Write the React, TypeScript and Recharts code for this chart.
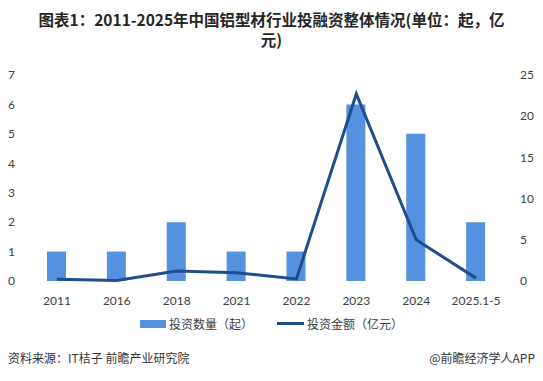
import { Bar, ComposedChart, Line, XAxis, YAxis } from "recharts";

const years = ["2011", "2016", "2018", "2021", "2022", "2023", "2024", "2025.1-5"];
const dealCounts = [1, 1, 2, 1, 1, 6, 5, 2];
const dealAmounts = [0.2, 0.05, 1.2, 1.0, 0.25, 22.7, 5.0, 0.35];
const leftTicks = [0, 1, 2, 3, 4, 5, 6, 7];
const rightTicks = [0, 5, 10, 15, 20, 25];
const edgeTicks = [0, 1, 2, 3, 4, 5, 6, 7, 8];

const cjk = '"Noto Sans CJK SC", "Noto Sans", sans-serif';
const tickFont = { fill: "#404040", fontSize: 12, fontFamily: "Lato, sans-serif" };

export default function App() {
  const data = years.map((year, i) => ({
    year,
    count: dealCounts[i],
    amount: dealAmounts[i],
    idx: i + 0.5,
  }));

  return (
    <div
      style={{
        position: "fixed",
        left: 0,
        top: 0,
        width: 543,
        height: 381,
        background: "#fff",
        fontFamily: cjk,
      }}
    >
      <div
        style={{
          position: "absolute",
          top: 9,
          left: 0,
          width: 543,
          textAlign: "center",
          fontSize: 15.5,
          fontWeight: 700,
          lineHeight: "20px",
          color: "#262626",
        }}
      >
        图表1：2011-2025年中国铝型材行业投融资整体情况(单位：起，亿
        <br />
        元)
      </div>

      <div style={{ position: "absolute", left: 0, top: 0 }}>
        <ComposedChart
          width={543}
          height={312}
          data={data}
          margin={{ top: 75, right: 0, bottom: 0, left: 0 }}
        >
          <XAxis
            xAxisId="edge"
            type="number"
            dataKey="idx"
            domain={[0, 8]}
            ticks={edgeTicks}
            height={0}
            tickFormatter={() => ""}
            axisLine={{ stroke: "#d9d9d9" }}
            tickLine={{ stroke: "#d9d9d9" }}
            tickSize={5}
          />
          <XAxis
            xAxisId="cat"
            dataKey="year"
            height={31}
            axisLine={false}
            tickLine={false}
            tick={tickFont}
            tickMargin={9}
            interval={0}
          />
          <YAxis
            yAxisId="left"
            domain={[0, 7]}
            ticks={leftTicks}
            width={27}
            axisLine={false}
            tickLine={false}
            tick={tickFont}
            tickMargin={6}
          />
          <YAxis
            yAxisId="right"
            orientation="right"
            domain={[0, 25]}
            ticks={rightTicks}
            width={37}
            axisLine={false}
            tickLine={false}
            tick={{ ...tickFont, textAnchor: "start" }}
            tickMargin={8}
          />
          <Bar
            xAxisId="cat"
            yAxisId="left"
            dataKey="count"
            name="投资数量（起）"
            fill="#5691e0"
            barSize={19}
            isAnimationActive={false}
          />
          <Line
            xAxisId="cat"
            yAxisId="right"
            type="linear"
            dataKey="amount"
            name="投资金额（亿元）"
            stroke="#1f4e8c"
            strokeWidth={3}
            dot={false}
            isAnimationActive={false}
          />
        </ComposedChart>
      </div>

      <div
        style={{
          position: "absolute",
          top: 315,
          left: 0,
          width: 543,
          display: "flex",
          justifyContent: "center",
          alignItems: "center",
          fontSize: 12,
          color: "#404040",
        }}
      >
        <span style={{ display: "inline-block", width: 26, height: 8, background: "#5691e0", marginRight: 3 }} />
        <span style={{ marginRight: 24 }}>投资数量（起）</span>
        <span style={{ display: "inline-block", width: 27, height: 3, background: "#1f4e8c", marginRight: 3 }} />
        <span>投资金额（亿元）</span>
      </div>

      <div
        style={{
          position: "absolute",
          top: 349,
          left: 8,
          fontSize: 12,
          color: "#333",
        }}
      >
        资料来源：IT桔子 前瞻产业研究院
      </div>
      <div
        style={{
          position: "absolute",
          top: 349,
          right: 8,
          fontSize: 12,
          color: "#333",
        }}
      >
        @前瞻经济学人APP
      </div>
    </div>
  );
}
